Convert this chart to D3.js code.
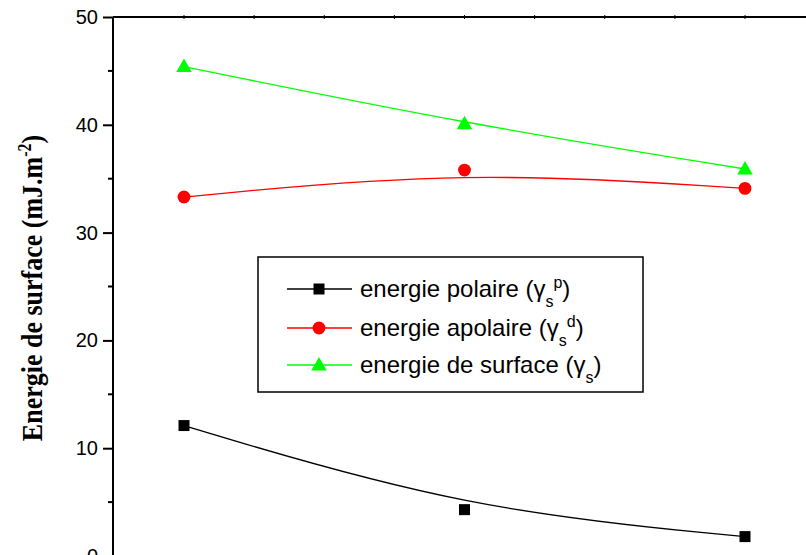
<!DOCTYPE html>
<html><head><meta charset="utf-8">
<script src="https://cdn.jsdelivr.net/npm/d3@7"></script>
<style>body{margin:0;background:#fff}svg{display:block}</style>
</head><body>
<svg id="c" width="806" height="555"></svg>
<script>
const xCats = [1, 2, 3];
const polaire = [12.1, 4.3, 1.8];
const apolaire = [33.3, 35.8, 34.1];
const surface = [45.4, 40.1, 35.9];
const yTicks = [0, 10, 20, 30, 40, 50];
const yMinor = [5, 15, 25, 35, 45];
const xTopTicks = [1, 1.25, 1.5, 1.75, 2, 2.25, 2.5, 2.75, 3];

const svg = d3.select("#c");
const x = d3.scaleLinear().domain([1, 3]).range([184, 745]);
const y = d3.scaleLinear().domain([0, 50]).range([556, 17]);

// frame: top line and left axis
svg.append("line").attr("x1", 113).attr("x2", 806).attr("y1", y(50)).attr("y2", y(50))
  .attr("stroke", "#000").attr("stroke-width", 2);
svg.append("line").attr("x1", 113).attr("x2", 113).attr("y1", y(50)).attr("y2", 560)
  .attr("stroke", "#000").attr("stroke-width", 2);

// top minor ticks
svg.selectAll(".tt").data(xTopTicks).enter().append("line")
  .attr("x1", d => x(d)).attr("x2", d => x(d)).attr("y1", y(50) - 2).attr("y2", y(50) + 2)
  .attr("stroke", "#000").attr("stroke-width", 1);

// left axis
const yAxis = d3.axisLeft(y).tickValues(yTicks).tickSize(10).tickPadding(5).tickFormat(d3.format("d"));
const ga = svg.append("g").attr("transform", "translate(113,0)").call(yAxis);
ga.select(".domain").remove();
ga.selectAll(".tick line").attr("stroke-width", 2);
ga.selectAll(".tick text").attr("font-family", "Liberation Sans, Arial, sans-serif").attr("font-size", 20).attr("fill", "#000");
svg.selectAll(".ym").data(yMinor).enter().append("line")
  .attr("x1", 108).attr("x2", 113).attr("y1", d => y(d)).attr("y2", d => y(d))
  .attr("stroke", "#000").attr("stroke-width", 2);

// y label
const yl = svg.append("text").attr("transform", "translate(42,288) rotate(-90) scale(1,1.15)")
  .attr("text-anchor", "middle").attr("font-family", "Liberation Serif, Times New Roman, serif")
  .attr("font-weight", "bold").attr("font-size", 26).attr("fill", "#000");
yl.append("tspan").text("Energie de surface (mJ.m");
yl.append("tspan").attr("dy", -10).attr("font-size", 16).text("-2");
yl.append("tspan").attr("dy", 10).text(")");

const series = [
  {vals: surface, color: "#00ff00", sym: d3.symbolTriangle, size: 105},
  {vals: apolaire, color: "#ff0000", sym: d3.symbolCircle, size: 130},
  {vals: polaire, color: "#000000", sym: d3.symbolSquare, size: 121}
];
const line = d3.line().x((d, i) => x(xCats[i])).y(d => y(d)).curve(d3.curveBasis);
series.forEach(s => {
  svg.append("path").attr("d", line(s.vals)).attr("fill", "none")
    .attr("stroke", s.color).attr("stroke-width", 1.3);
  svg.selectAll(null).data(s.vals).enter().append("path")
    .attr("d", d3.symbol().type(s.sym).size(s.size))
    .attr("transform", (d, i) => `translate(${x(xCats[i])},${y(d) + (s.sym === d3.symbolTriangle ? 1 : 0)})`)
    .attr("fill", s.color);
});

// legend
const lg = svg.append("g");
lg.append("rect").attr("x", 258).attr("y", 257).attr("width", 385).attr("height", 135)
  .attr("fill", "#fff").attr("stroke", "#000").attr("stroke-width", 1.5);
const legendItems = [
  {label: "energie polaire (γ", sub: "s", sup: "p", color: "#000000", sym: d3.symbolSquare, size: 121, ry: 289},
  {label: "energie apolaire (γ", sub: "s", sup: "d", color: "#ff0000", sym: d3.symbolCircle, size: 130, ry: 328},
  {label: "energie de surface (γ", sub: "s", sup: null, color: "#00ff00", sym: d3.symbolTriangle, size: 105, ry: 365}
];
legendItems.forEach(it => {
  lg.append("line").attr("x1", 287).attr("x2", 352).attr("y1", it.ry).attr("y2", it.ry)
    .attr("stroke", it.color).attr("stroke-width", 1.3);
  lg.append("path").attr("d", d3.symbol().type(it.sym).size(it.size)())
    .attr("transform", `translate(319,${it.ry + (it.sym === d3.symbolTriangle ? 1 : 0)})`).attr("fill", it.color);
  const t = lg.append("text").attr("x", 360).attr("y", it.ry + 8)
    .attr("font-family", "Liberation Sans, Arial, sans-serif").attr("font-size", 24).attr("fill", "#000");
  t.append("tspan").text(it.label);
  t.append("tspan").attr("dy", 10).attr("font-size", 16).text(it.sub);
  if (it.sup) {
    t.append("tspan").attr("dy", -19).attr("font-size", 16).text(it.sup);
    t.append("tspan").attr("dy", 9).text(")");
  } else {
    t.append("tspan").attr("dy", -10).text(")");
  }
});
</script>
</body></html>
